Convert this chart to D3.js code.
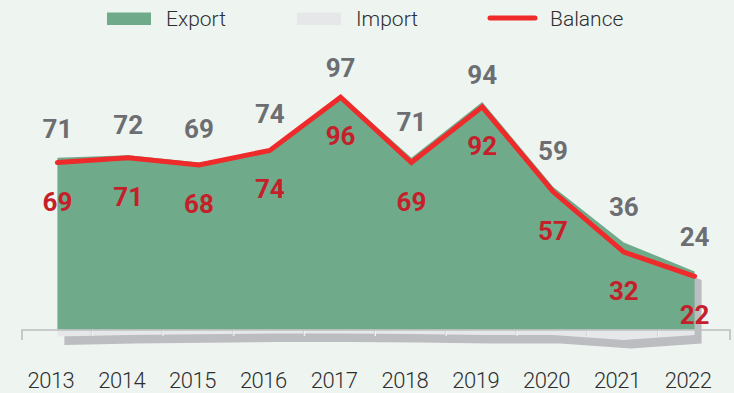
<!DOCTYPE html>
<html>
<head>
<meta charset="utf-8">
<script src="https://cdn.jsdelivr.net/npm/d3@7/dist/d3.min.js"></script>
<style>
  html, body { margin: 0; padding: 0; background: #eef5f1; }
  svg { display: block; }
  text { font-family: Roboto, "Noto Sans", sans-serif; }
</style>
</head>
<body>
<svg id="chart" width="734" height="393"></svg>
<script>
// Trade figures per year
const years   = ["2013", "2014", "2015", "2016", "2017", "2018", "2019", "2020", "2021", "2022"];
const exportV = [71, 72, 69, 74, 97, 71, 94, 59, 36, 24];
const importV = [2.9, 2.3, 2.0, 1.7, 1.7, 1.9, 2.3, 2.3, 4.3, 2.3];
const balance = [69, 71, 68, 74, 96, 69, 92, 57, 32, 22];

// Vertical lift (px) of each export label above its point
const exportLabelLift = [20, 21, 25, 27, 18, 27, 18, 27, 26, 25];

const W = 734, H = 393;
const C = {
  bg: "#eef5f1", green: "#6fab8a", light: "#e6e7e9", shadow: "#bcbdc0",
  red: "#ee2a2b", redText: "#c5202a", greyText: "#6d6e71", axis: "#bdbec0", text: "#2e2e2e"
};

const svg = d3.select("#chart");
svg.append("rect").attr("width", W).attr("height", H).attr("fill", C.bg);

const x = d3.scalePoint().domain(years).range([22, 730]).padding(0.5);
const y = d3.scaleLinear().domain([0, 100]).range([329.5, 87.5]);
const step = x.step();

const rows = years.map((yr, i) => ({ yr, ex: exportV[i], im: importV[i], bal: balance[i] }));

// Outline of export on top and import below zero, used for the drop shadow
const outline = d3.area()
  .x(d => x(d.yr))
  .y0(d => y(-d.im))
  .y1(d => y(d.ex));

const sdx = 7, sdy = 8.5;
svg.append("path")
  .datum(rows)
  .attr("d", outline)
  .attr("transform", `translate(${sdx},${sdy})`)
  .attr("fill", C.shadow);

// Import area below the axis
svg.append("path")
  .datum(rows)
  .attr("d", d3.area().x(d => x(d.yr)).y0(y(0)).y1(d => y(-d.im)))
  .attr("fill", C.light);

// Category separators inside the import band
const seps = years.slice(0, -1).map((yr, i) => x(yr) + step / 2 - 1.5);
svg.append("g").selectAll("line")
  .data(seps)
  .join("line")
  .attr("x1", d => d).attr("x2", d => d)
  .attr("y1", y(0)).attr("y2", y(0) + 6.5)
  .attr("stroke", "#cdced1").attr("stroke-width", 1);
svg.append("g").selectAll("line")
  .data(seps)
  .join("line")
  .attr("x1", d => d + 1).attr("x2", d => d + 1)
  .attr("y1", y(0)).attr("y2", y(0) + 6.5)
  .attr("stroke", "#f4f5f6").attr("stroke-width", 1);

// Export area
svg.append("path")
  .datum(rows)
  .attr("d", d3.area().x(d => x(d.yr)).y0(y(0)).y1(d => y(d.ex)))
  .attr("fill", C.green);

// Category axis line with end ticks
const [r0, r1] = x.range();
svg.append("path")
  .attr("d", `M${r0},${y(0) + 10.5}V${y(0) + 0.5}H${r1}V${y(0) + 10.5}`)
  .attr("fill", "none")
  .attr("stroke", C.axis)
  .attr("stroke-width", 1.6);

// Balance line
svg.append("path")
  .datum(rows)
  .attr("d", d3.line().x(d => x(d.yr)).y(d => y(d.bal)))
  .attr("fill", "none")
  .attr("stroke", C.red)
  .attr("stroke-width", 5)
  .attr("stroke-linejoin", "miter")
  .attr("stroke-linecap", "round");

// Export value labels
svg.append("g").selectAll("text")
  .data(rows)
  .join("text")
  .attr("x", d => x(d.yr))
  .attr("y", (d, i) => y(d.ex) - exportLabelLift[i])
  .attr("text-anchor", "middle")
  .attr("font-size", 26)
  .attr("font-weight", 700)
  .attr("fill", C.greyText)
  .text(d => d.ex);

// Balance value labels
svg.append("g").selectAll("text")
  .data(rows)
  .join("text")
  .attr("x", d => x(d.yr))
  .attr("y", d => y(d.bal) + 48)
  .attr("text-anchor", "middle")
  .attr("font-size", 26)
  .attr("font-weight", 700)
  .attr("fill", C.redText)
  .text(d => d.bal);

// Year labels
svg.append("g").selectAll("text")
  .data(years)
  .join("text")
  .attr("x", d => x(d) - 6.5)
  .attr("y", 387.5)
  .attr("text-anchor", "middle")
  .attr("font-size", 22)
  .attr("font-weight", 300)
  .attr("letter-spacing", -0.5)
  .attr("fill", C.text)
  .text(d => d);

// Legend
const legend = svg.append("g");
const legendItems = [
  { label: "Export", kind: "rect", color: C.green, sx: 107, tx: 166 },
  { label: "Import", kind: "rect", color: C.light, sx: 297, tx: 356 },
  { label: "Balance", kind: "line", color: C.red, sx: 488, tx: 550 }
];
legendItems.forEach(it => {
  if (it.kind === "rect") {
    legend.append("rect").attr("x", it.sx).attr("y", 12.5).attr("width", 44).attr("height", 12.5).attr("fill", it.color);
  } else {
    legend.append("line").attr("x1", it.sx + 2).attr("x2", it.sx + 47).attr("y1", 18).attr("y2", 18)
      .attr("stroke", it.color).attr("stroke-width", 5).attr("stroke-linecap", "round");
  }
  legend.append("text")
    .attr("x", it.tx).attr("y", 26)
    .attr("font-size", 21)
    .attr("font-weight", 300)
    .attr("fill", C.text)
    .text(it.label);
});
</script>
</body>
</html>
